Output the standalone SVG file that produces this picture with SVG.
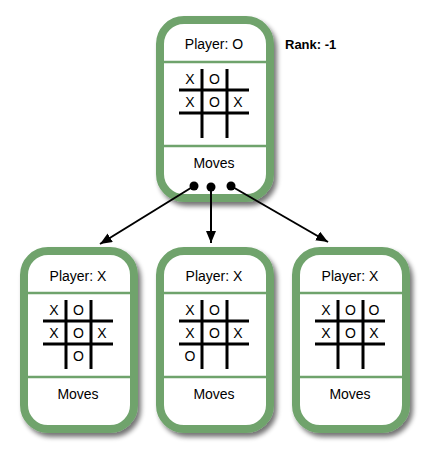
<svg xmlns="http://www.w3.org/2000/svg" width="427" height="454" viewBox="0 0 427 454">
<defs>
<filter id="sh" x="-20%" y="-20%" width="150%" height="150%">
<feGaussianBlur in="SourceAlpha" stdDeviation="2.5"/>
<feOffset dx="3" dy="4" result="b"/>
<feComponentTransfer><feFuncA type="linear" slope="0.55"/></feComponentTransfer>
<feMerge><feMergeNode/><feMergeNode in="SourceGraphic"/></feMerge>
</filter>
<marker id="ah" markerWidth="12" markerHeight="10" refX="12" refY="5" orient="auto" markerUnits="userSpaceOnUse">
<path d="M0,0 L12,5 L0,10 Z" fill="#000"/>
</marker>
</defs>
<style>
.box{fill:#fff;stroke:#6fa36c;stroke-width:8}
.div{stroke:#6fa36c;stroke-width:2.5}
.g{stroke:#000;stroke-width:3}
text{font-family:"Liberation Sans",Arial,sans-serif;fill:#000}
.t{font-size:14px;text-anchor:middle}
.c{font-size:14px;text-anchor:middle}
.rank{font-size:13px;font-weight:bold}
.con{stroke:#000;stroke-width:2;fill:none}
</style>
<rect x="-1000" y="-1000" width="3000" height="3000" fill="#fff"/>

<g id="node-top" transform="translate(160,20)">
<rect class="box" x="0" y="0" width="110" height="178" rx="24" filter="url(#sh)"/>
<line class="div" x1="0" y1="42" x2="110" y2="42"/>
<line class="div" x1="0" y1="126" x2="110" y2="126"/>
<text class="t" x="54" y="29">Player: O</text>
<line class="g" x1="42" y1="49" x2="42" y2="118"/>
<line class="g" x1="67" y1="49" x2="67" y2="118"/>
<line class="g" x1="19" y1="70" x2="89" y2="70"/>
<line class="g" x1="19" y1="93" x2="89" y2="93"/>
<text class="c" x="30" y="64">X</text><text class="c" x="54.5" y="64">O</text>
<text class="c" x="30" y="87">X</text><text class="c" x="54.5" y="87">O</text><text class="c" x="78" y="87">X</text>
<text class="t" x="54" y="148">Moves</text>
</g>

<g id="node-left" transform="translate(24,251)">
<rect class="box" x="0" y="0" width="110" height="178" rx="24" filter="url(#sh)"/>
<line class="div" x1="0" y1="42" x2="110" y2="42"/>
<line class="div" x1="0" y1="126" x2="110" y2="126"/>
<text class="t" x="54" y="30">Player: X</text>
<line class="g" x1="42" y1="49" x2="42" y2="118"/>
<line class="g" x1="67" y1="49" x2="67" y2="118"/>
<line class="g" x1="19" y1="70" x2="89" y2="70"/>
<line class="g" x1="19" y1="93" x2="89" y2="93"/>
<text class="c" x="30" y="64">X</text><text class="c" x="54.5" y="64">O</text>
<text class="c" x="30" y="87">X</text><text class="c" x="54.5" y="87">O</text><text class="c" x="78" y="87">X</text>
<text class="c" x="54.5" y="110">O</text>
<text class="t" x="54" y="148">Moves</text>
</g>

<g id="node-mid" transform="translate(160,251)">
<rect class="box" x="0" y="0" width="110" height="178" rx="24" filter="url(#sh)"/>
<line class="div" x1="0" y1="42" x2="110" y2="42"/>
<line class="div" x1="0" y1="126" x2="110" y2="126"/>
<text class="t" x="54" y="30">Player: X</text>
<line class="g" x1="42" y1="49" x2="42" y2="118"/>
<line class="g" x1="67" y1="49" x2="67" y2="118"/>
<line class="g" x1="19" y1="70" x2="89" y2="70"/>
<line class="g" x1="19" y1="93" x2="89" y2="93"/>
<text class="c" x="30" y="64">X</text><text class="c" x="54.5" y="64">O</text>
<text class="c" x="30" y="87">X</text><text class="c" x="54.5" y="87">O</text><text class="c" x="78" y="87">X</text>
<text class="c" x="30" y="110">O</text>
<text class="t" x="54" y="148">Moves</text>
</g>

<g id="node-right" transform="translate(296,251)">
<rect class="box" x="0" y="0" width="110" height="178" rx="24" filter="url(#sh)"/>
<line class="div" x1="0" y1="42" x2="110" y2="42"/>
<line class="div" x1="0" y1="126" x2="110" y2="126"/>
<text class="t" x="54" y="30">Player: X</text>
<line class="g" x1="42" y1="49" x2="42" y2="118"/>
<line class="g" x1="67" y1="49" x2="67" y2="118"/>
<line class="g" x1="19" y1="70" x2="89" y2="70"/>
<line class="g" x1="19" y1="93" x2="89" y2="93"/>
<text class="c" x="30" y="64">X</text><text class="c" x="54.5" y="64">O</text><text class="c" x="78" y="64">O</text>
<text class="c" x="30" y="87">X</text><text class="c" x="54.5" y="87">O</text><text class="c" x="78" y="87">X</text>
<text class="t" x="54" y="148">Moves</text>
</g>

<text id="rank" class="rank" x="285" y="49">Rank: -1</text>

<g id="connectors">
<line class="con" x1="194" y1="186" x2="100" y2="244" marker-end="url(#ah)"/>
<line class="con" x1="211" y1="187" x2="211" y2="243" marker-end="url(#ah)"/>
<line class="con" x1="231" y1="186" x2="328" y2="242" marker-end="url(#ah)"/>
<circle cx="194" cy="186" r="4.5" fill="#000"/>
<circle cx="211" cy="187" r="4.5" fill="#000"/>
<circle cx="231" cy="186" r="4.5" fill="#000"/>
</g>
</svg>
